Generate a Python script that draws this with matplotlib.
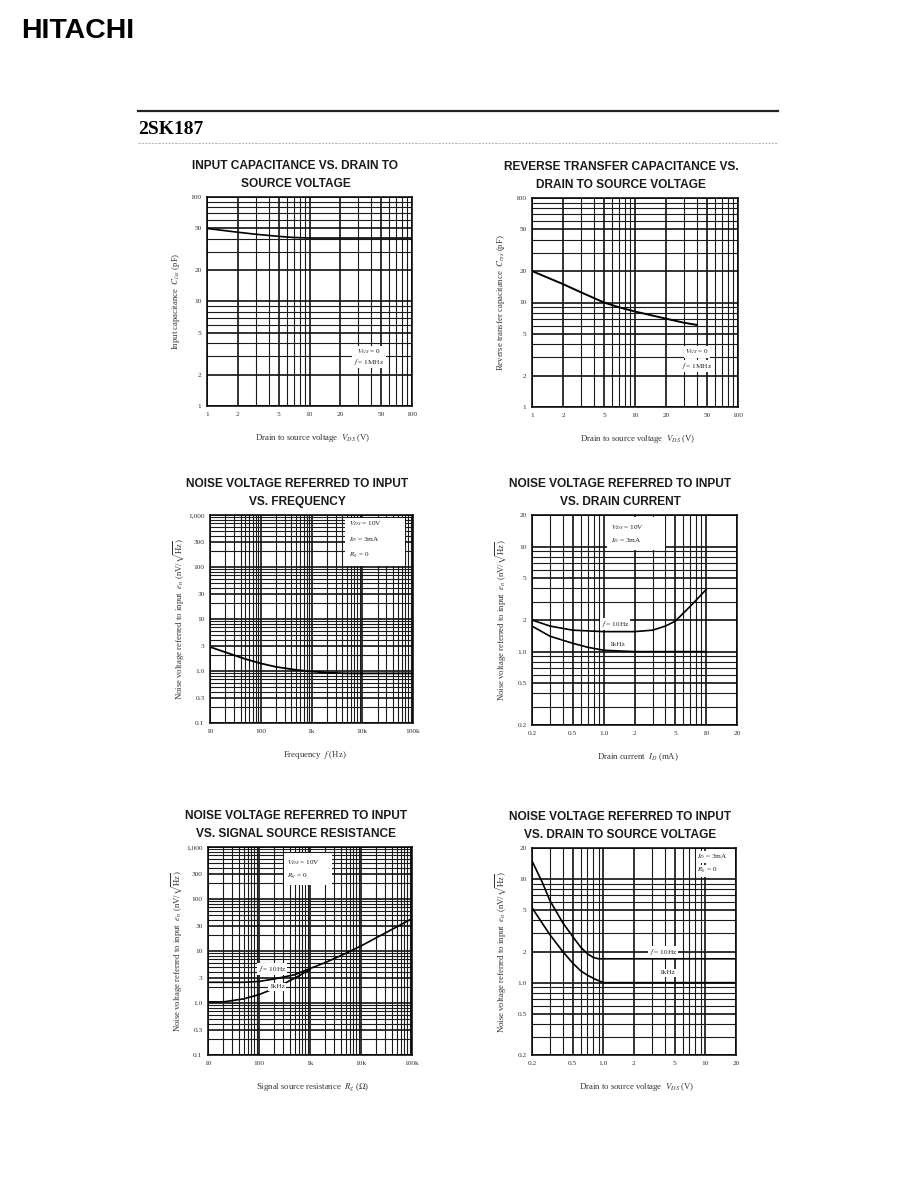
import numpy as np
import matplotlib.pyplot as plt
from matplotlib.ticker import FixedLocator, LogLocator, NullFormatter

W, H = 918, 1188
plt.rcParams['font.family'] = ['Liberation Serif', 'DejaVu Serif']
plt.rcParams['mathtext.fontset'] = 'stix'

# --- curve data ---
ciss_vds = [1, 2, 3, 5, 7, 10, 20, 50, 100]
ciss_pf = [50, 46, 44, 42, 41, 40.5, 40.5, 40.5, 40.5]

crss_vds = [1, 2, 3, 5, 7, 10, 20, 30, 40]
crss_pf = [20, 15, 12.5, 10, 9, 8.2, 7, 6.4, 6.1]

freq_hz = [10, 20, 50, 100, 200, 500, 1000, 2000, 5000, 10000, 100000]
freq_en = [2.9, 2.3, 1.7, 1.4, 1.2, 1.05, 0.98, 0.93, 0.9, 0.9, 0.9]

id_ma_10 = [0.2, 0.3, 0.5, 1.0, 2, 3, 4, 5, 7, 10]
id_en_10 = [2.0, 1.75, 1.6, 1.55, 1.55, 1.6, 1.75, 1.95, 2.7, 3.9]
id_ma_1k = [0.2, 0.3, 0.5, 0.7, 1.0, 2, 5, 10]
id_en_1k = [1.75, 1.4, 1.2, 1.1, 1.03, 1.0, 1.0, 1.0]

rg_10 = [10, 50, 100, 200, 500, 1000, 2000, 5000, 10000, 20000, 50000, 100000]
rg_en_10 = [2.5, 2.5, 2.6, 2.9, 3.5, 4.6, 6, 9, 12.5, 18, 29, 42]
rg_1k = [10, 20, 50, 100, 200, 500, 1000]
rg_en_1k = [1.05, 1.05, 1.2, 1.45, 1.9, 3.0, 4.4]

vds_10 = [0.2, 0.25, 0.3, 0.4, 0.5, 0.6, 0.7, 0.8, 0.9, 20]
vds_en_10 = [15, 9.5, 6.2, 3.8, 2.8, 2.2, 1.9, 1.75, 1.7, 1.7]
vds_1k = [0.2, 0.25, 0.3, 0.4, 0.5, 0.6, 0.7, 0.85, 1.0, 20]
vds_en_1k = [5.3, 3.8, 2.9, 2.0, 1.55, 1.3, 1.18, 1.07, 1.0, 1.0]

# tick sets
t_1_100 = [1, 2, 5, 10, 20, 50, 100]
l_1_100 = ['1', '2', '5', '10', '20', '50', '100']
t_02_20 = [0.2, 0.5, 1, 2, 5, 10, 20]
l_02_20 = ['0.2', '0.5', '1.0', '2', '5', '10', '20']
t_10_100k = [10, 100, 1000, 10000, 100000]
l_10_100k = ['10', '100', '1k', '10k', '100k']
t_en = [0.1, 0.3, 1, 3, 10, 30, 100, 300, 1000]
l_en = ['0.1', '0.3', '1.0', '3', '10', '30', '100', '300', '1,000']

EN_LABEL = r'Noise voltage referred to input  $e_n$ (nV/$\sqrt{\rm Hz}$)'

fig = plt.figure(figsize=(W / 100, H / 100), dpi=100)


def fx(x):
    return x / W


def fy(y):
    return 1 - y / H


def panel(box, xlim, ylim, xt, xl, yt, yl, title, xlabel, ylabel):
    l, t, r, b = box
    ax = fig.add_axes([fx(l), fy(b), (r - l) / W, (b - t) / H])
    ax.set_xscale('log')
    ax.set_yscale('log')
    ax.set_xlim(*xlim)
    ax.set_ylim(*ylim)
    ax.xaxis.set_major_locator(FixedLocator(xt))
    ax.yaxis.set_major_locator(FixedLocator(yt))
    ax.xaxis.set_minor_locator(LogLocator(subs=np.arange(1, 10), numticks=20))
    ax.yaxis.set_minor_locator(LogLocator(subs=np.arange(1, 10), numticks=20))
    ax.xaxis.set_minor_formatter(NullFormatter())
    ax.yaxis.set_minor_formatter(NullFormatter())
    ax.set_xticklabels(xl)
    ax.set_yticklabels(yl)
    ax.tick_params(which='both', length=0, labelsize=5.3, colors='#333333', pad=4)
    ax.grid(which='major', color='#111111', lw=1.2)
    ax.grid(which='minor', color='#1a1a1a', lw=0.8)
    for s in ax.spines.values():
        s.set_linewidth(1.1)
    cx = (l + r) / 2
    tx = cx - 14
    fig.text(fx(tx), fy(t - 31), title[0], ha='center', va='center', fontsize=8.6,
             family='Liberation Sans', weight='bold', color='#1a1a1a')
    fig.text(fx(tx), fy(t - 13), title[1], ha='center', va='center', fontsize=8.6,
             family='Liberation Sans', weight='bold', color='#1a1a1a')
    fig.text(fx(cx + 3), fy(b + 32), xlabel, ha='center', va='center', fontsize=6.3,
             color='#333333')
    fig.text(fx(l - 31), fy((t + b) / 2), ylabel, ha='center', va='center', fontsize=6.3,
             rotation=90, color='#333333')
    return ax


def note(px, py, s, ha='center'):
    fig.text(fx(px), fy(py), s, ha=ha, va='center', fontsize=5.2, color='#222222',
             bbox=dict(boxstyle='square,pad=0.15', fc='white', ec='none'))


# header
fig.text(fx(21), fy(31), 'HITACHI', fontsize=20.5, family='Liberation Sans', weight='bold',
         va='center', ha='left')
fig.add_artist(plt.Line2D([fx(138), fx(778)], [fy(111), fy(111)], color='#222222', lw=1.6))
fig.text(fx(138), fy(129), '2SK187', fontsize=14, weight='bold', va='center', ha='left')
fig.add_artist(plt.Line2D([fx(138), fx(778)], [fy(143), fy(143)], color='#bbbbbb', lw=0.8,
                          ls=(0, (2, 1))))

# 1
ax = panel((207, 197, 412, 406), (1, 100), (1, 100), t_1_100, l_1_100, t_1_100, l_1_100,
           ('INPUT CAPACITANCE VS. DRAIN TO', 'SOURCE VOLTAGE'),
           r'Drain to source voltage  $V_{DS}$ (V)', r'Input capacitance  $C_{iss}$ (pF)')
ax.plot(ciss_vds, ciss_pf, color='k', lw=1.2)
note(369, 352, r'$V_{GS}$ = 0')
note(369, 362, r'$f$ = 1MHz')

# 2
ax = panel((532, 198, 738, 407), (1, 100), (1, 100), t_1_100, l_1_100, t_1_100, l_1_100,
           ('REVERSE TRANSFER CAPACITANCE VS.', 'DRAIN TO SOURCE VOLTAGE'),
           r'Drain to source voltage  $V_{DS}$ (V)', r'Reverse transfer capacitance  $C_{rss}$ (pF)')
ax.plot(crss_vds, crss_pf, color='k', lw=1.4)
note(697, 352, r'$V_{GS}$ = 0')
note(697, 366, r'$f$ = 1MHz')

# 3
ax = panel((210, 515, 413, 723), (10, 100000), (0.1, 1000), t_10_100k, l_10_100k, t_en, l_en,
           ('NOISE VOLTAGE REFERRED TO INPUT', 'VS. FREQUENCY'),
           r'Frequency  $f$ (Hz)', EN_LABEL)
ax.plot(freq_hz, freq_en, color='k', lw=1.3)
fig.add_artist(plt.Rectangle((fx(345), fy(566)), 60 / W, 48 / H, fc='white', ec='none'))
note(349, 524, r'$V_{DS}$ = 10V', ha='left')
note(349, 540, r'$I_D$ = 3mA', ha='left')
note(349, 556, r'$R_g$ = 0', ha='left')

# 4
ax = panel((532, 515, 737, 725), (0.2, 20), (0.2, 20), t_02_20, l_02_20, t_02_20, l_02_20,
           ('NOISE VOLTAGE REFERRED TO INPUT', 'VS. DRAIN CURRENT'),
           r'Drain current  $I_D$ (mA)', EN_LABEL)
ax.plot(id_ma_10, id_en_10, color='k', lw=1.2)
ax.plot(id_ma_1k, id_en_1k, color='k', lw=1.2)
fig.add_artist(plt.Rectangle((fx(607), fy(550)), 58 / W, 33 / H, fc='white', ec='none'))
note(611, 528, r'$V_{DS}$ = 10V', ha='left')
note(611, 541, r'$I_D$ = 3mA', ha='left')
note(615, 624, r'$f$ = 10Hz')
note(617, 644, '1kHz')

# 5
ax = panel((208, 847, 412, 1055), (10, 100000), (0.1, 1000), t_10_100k, l_10_100k, t_en, l_en,
           ('NOISE VOLTAGE REFERRED TO INPUT', 'VS. SIGNAL SOURCE RESISTANCE'),
           r'Signal source resistance  $R_g$ ($\Omega$)', EN_LABEL)
ax.plot(rg_10, rg_en_10, color='k', lw=1.2)
ax.plot(rg_1k, rg_en_1k, color='k', lw=1.2)
fig.add_artist(plt.Rectangle((fx(284), fy(885)), 48 / W, 32 / H, fc='white', ec='none'))
note(287, 863, r'$V_{DS}$ = 10V', ha='left')
note(287, 877, r'$R_g$ = 0', ha='left')
note(272, 969, r'$f$ = 10Hz')
note(277, 987, '1kHz')

# 6
ax = panel((532, 848, 736, 1055), (0.2, 20), (0.2, 20), t_02_20, l_02_20, t_02_20, l_02_20,
           ('NOISE VOLTAGE REFERRED TO INPUT', 'VS. DRAIN TO SOURCE VOLTAGE'),
           r'Drain to source voltage  $V_{DS}$ (V)', EN_LABEL)
ax.plot(vds_10, vds_en_10, color='k', lw=1.2)
ax.plot(vds_1k, vds_en_1k, color='k', lw=1.2)
note(697, 857, r'$I_D$ = 3mA', ha='left')
note(697, 871, r'$R_g$ = 0', ha='left')
note(663, 952, r'$f$ = 10Hz')
note(667, 973, '1kHz')

fig.savefig('out.png', dpi=100)
